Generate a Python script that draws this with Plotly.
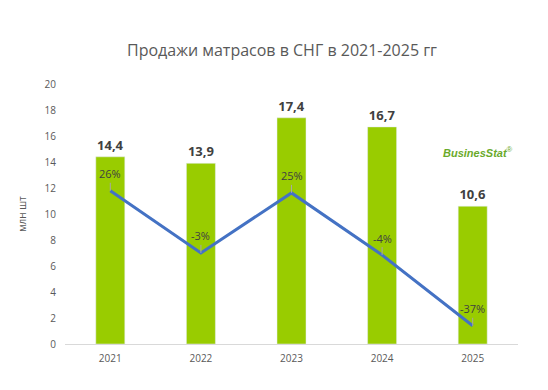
import plotly.graph_objects as go

years = ["2021", "2022", "2023", "2024", "2025"]
sales = [14.4, 13.9, 17.4, 16.7, 10.6]
growth = [26, -3, 25, -4, -37]
sales_labels = ["14,4", "13,9", "17,4", "16,7", "10,6"]
growth_labels = ["26%", "-3%", "25%", "-4%", "-37%"]

FONT = "Open Sans"
OFF = 8  # page body margin compensation

L, T, PW, PH = 65 - OFF, 84 - OFF, 453, 260
W, H = 548, 390

fig = go.Figure()
fig.add_trace(go.Bar(
    x=years, y=sales, marker_color="#99cc00", width=0.32,
    text=sales_labels, textposition="outside",
    textfont=dict(family=FONT, size=13, color="#404040", weight="bold"),
    cliponaxis=False, showlegend=False, hoverinfo="skip",
))
fig.add_trace(go.Scatter(
    x=years, y=growth, yaxis="y2", mode="lines",
    line=dict(color="#4472c4", width=3),
    showlegend=False, hoverinfo="skip", cliponaxis=False,
))
for i, (g, lab) in enumerate(zip(growth, growth_labels)):
    fig.add_annotation(
        x=i, y=g, xref="x", yref="y2", text=lab,
        showarrow=True, arrowhead=0, arrowwidth=1, arrowcolor="#a6a6a6",
        ax=0, ay=-17, standoff=0,
        font=dict(family=FONT, size=11, color="#404040"),
    )
fig.update_layout(
    width=W, height=H,
    margin=dict(l=L, r=W - L - PW, t=T, b=H - T - PH),
    plot_bgcolor="white", paper_bgcolor="white",
    title=dict(text="Продажи матрасов в СНГ в 2021-2025 гг",
               x=(282 - OFF) / W, xanchor="center",
               y=1 - (50 - OFF) / H, yanchor="middle",
               font=dict(family=FONT, size=16, color="#595959")),
    xaxis=dict(type="category", showline=True, linecolor="#d9d9d9", linewidth=1, ticks="",
               ticklabelstandoff=5,
               tickfont=dict(family=FONT, size=10, color="#595959")),
    yaxis=dict(range=[0, 20], dtick=2, showgrid=False, zeroline=False,
               tickfont=dict(family=FONT, size=10, color="#595959"),
               ticklabelstandoff=8,
               title=dict(text="млн шт", font=dict(family=FONT, size=10, color="#595959"),
                          standoff=16)),
    yaxis2=dict(overlaying="y", range=[-45.5, 75.8], visible=False),
)
fig.add_annotation(
    x=(478 - 65) / PW, y=(344 - 152) / PH, xref="paper", yref="paper",
    xanchor="center", yanchor="middle",
    text="<b><i>BusinesStat</i></b><sup>®</sup>", showarrow=False,
    font=dict(family="Liberation Sans", size=11, color="#6aaa2a"),
)
fig.write_html("out.html")
